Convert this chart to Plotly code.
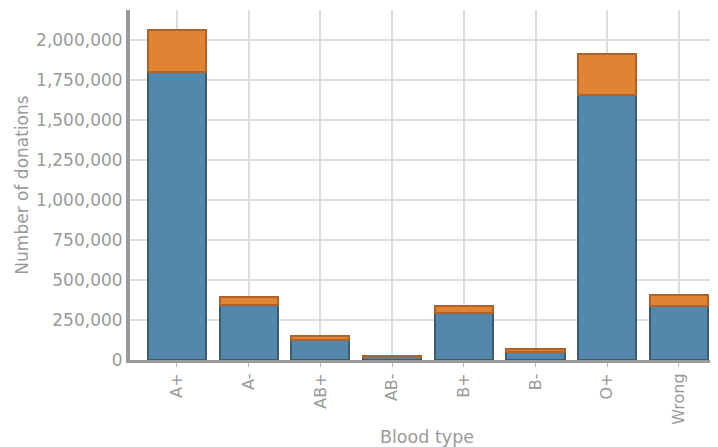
import plotly.graph_objects as go

blood_types = ["A+", "A-", "AB+", "AB-", "B+", "B-", "O+", "Wrong"]
first_values = [1800000, 343000, 125000, 17000, 292000, 50000, 1656000, 337000]
second_values = [262000, 51000, 27000, 11000, 47000, 19000, 255000, 67000]

y_ticks = [0, 250000, 500000, 750000, 1000000, 1250000, 1500000, 1750000, 2000000]

gray = "#9a9a9a"
fig = go.Figure()
fig.add_trace(go.Bar(x=blood_types, y=first_values, marker=dict(color="#5387ac", line=dict(color="#3c5a70", width=2)), width=0.81))
fig.add_trace(go.Bar(x=blood_types, y=second_values, marker=dict(color="#e08433", line=dict(color="#b0622b", width=2)), width=0.81))

# page body has an 8px default margin, so the figure is sized to fit the window
fig.update_layout(
    barmode="stack",
    width=710, height=439,
    margin=dict(l=122, r=0, t=2, b=87),
    paper_bgcolor="white", plot_bgcolor="white",
    showlegend=False,
    font=dict(family="DejaVu Sans", color=gray, size=16),
)
fig.update_xaxes(
    range=[-0.655, 7.545], tickangle=-90, automargin=False,
    showgrid=True, gridcolor="#dcdcdc", gridwidth=2,
    showline=True, linecolor=gray, linewidth=3,
    ticks="outside", ticklen=4, tickcolor="#bbbbbb", tickwidth=1,
    tickfont=dict(size=16, color=gray),
)
fig.update_yaxes(
    range=[0, 2187500], tickvals=y_ticks, tickformat=",d", automargin=False,
    showgrid=True, gridcolor="#dcdcdc", gridwidth=2, zeroline=False,
    showline=True, linecolor=gray, linewidth=4,
    ticks="", tickfont=dict(size=17, color=gray),
    title=dict(text="Number of donations", font=dict(size=17, color=gray), standoff=4),
)
fig.add_annotation(
    text="Blood type", xref="paper", yref="paper", x=0.505, y=0, yshift=-77,
    showarrow=False, xanchor="center", yanchor="middle",
    font=dict(size=17.5, color=gray),
)
fig.write_html("out.html")
